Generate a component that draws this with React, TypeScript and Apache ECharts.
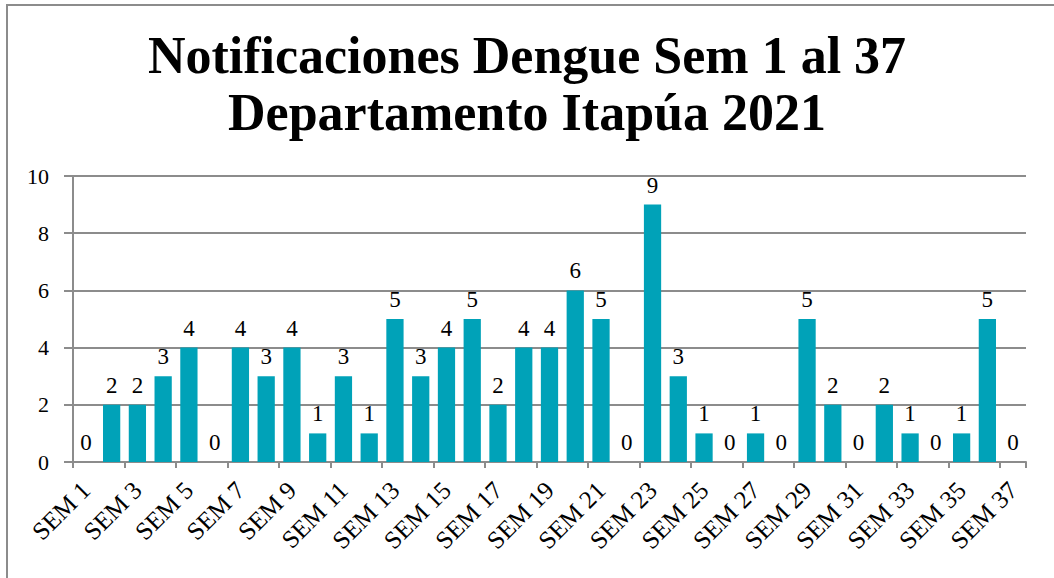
import React, { useEffect, useRef } from "react";
import * as echarts from "echarts";

const categories: string[] = Array.from({ length: 37 }, (_, i) => `SEM ${i + 1}`);
const values: number[] = [0, 2, 2, 3, 4, 0, 4, 3, 4, 1, 3, 1, 5, 3, 4, 5, 2, 4, 4, 6, 5, 0, 9, 3, 1, 0, 1, 0, 5, 2, 0, 2, 1, 0, 1, 5, 0];
const titleText = "Notificaciones Dengue Sem 1 al 37\nDepartamento Itapúa 2021";

const FONT = "'Liberation Serif', 'DejaVu Serif', serif";

export default function App() {
  const ref = useRef<HTMLDivElement>(null);
  useEffect(() => {
    const chart = echarts.init(ref.current!, undefined, { renderer: "svg" });
    chart.setOption({
      animation: false,
      backgroundColor: "#ffffff",
      graphic: [
        {
          type: "rect",
          shape: { x: 7, y: 5, width: 1080, height: 620 },
          style: { fill: "none", stroke: "#8c8c8c", lineWidth: 2 },
          silent: true,
        },
      ],
      title: {
        text: titleText,
        left: "center",
        top: 22,
        textStyle: { fontFamily: FONT, fontSize: 52, fontWeight: "bold", color: "#000", lineHeight: 57 },
      },
      grid: { left: 73, right: 28, top: 176, bottom: 116 },
      xAxis: {
        type: "category",
        data: categories,
        axisLine: { lineStyle: { color: "#8c8c8c", width: 2 } },
        axisTick: { show: true, length: 6, lineStyle: { color: "#8c8c8c", width: 2 } },
        axisLabel: {
          interval: 1,
          rotate: 45,
          fontFamily: FONT,
          fontSize: 25,
          color: "#000",
          margin: 24,
        },
      },
      yAxis: {
        type: "value",
        min: 0,
        max: 10,
        interval: 2,
        axisLine: { show: true, lineStyle: { color: "#8c8c8c", width: 2 } },
        axisTick: { show: true, length: 9, lineStyle: { color: "#8c8c8c", width: 2 } },
        splitLine: { lineStyle: { color: "#8c8c8c", width: 2 } },
        axisLabel: { fontFamily: FONT, fontSize: 22, color: "#000", margin: 24 },
      },
      series: [
        {
          type: "bar",
          data: values,
          barCategoryGap: "33%",
          itemStyle: { color: "#00A2B8" },
          label: {
            show: true,
            position: "top",
            fontFamily: FONT,
            fontSize: 23,
            color: "#000",
            distance: 8,
          },
        },
      ],
    });
    return () => chart.dispose();
  }, []);
  return (
    <div
      ref={ref}
      style={{ position: "fixed", left: 0, top: 0, width: 1054, height: 578, background: "#fff" }}
    />
  );
}
